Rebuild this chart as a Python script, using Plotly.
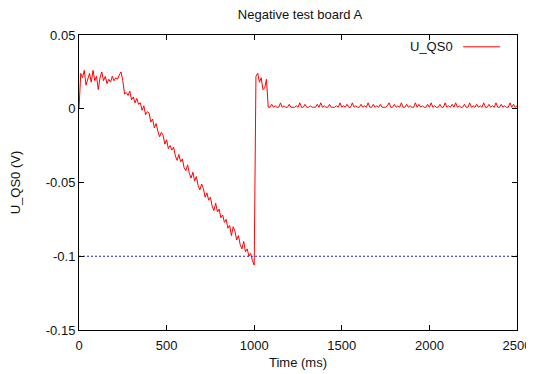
import plotly.graph_objects as go

title_text = "Negative test board A"
x_label = "Time (ms)"
y_label = "U_QS0 (V)"
series_name = "U_QS0"
threshold = -0.1
sample_step_ms = 10

head = [0.000, 0.024, 0.021, 0.026, 0.016, 0.020, 0.024, 0.018, 0.026, 0.019,
        0.022, 0.013, 0.021, 0.025, 0.019, 0.022, 0.017, 0.020, 0.018, 0.022,
        0.019, 0.021, 0.020, 0.023, 0.025, 0.019]

decline = [0.010, 0.011, 0.009, 0.012, 0.006, 0.008, 0.004, 0.007, 0.003, 0.004,
           -0.001, 0.002, -0.004, -0.002, -0.003, -0.009, -0.007, -0.013, -0.010, -0.015,
           -0.019, -0.016, -0.018, -0.024, -0.021, -0.027, -0.025, -0.028, -0.026, -0.032,
           -0.035, -0.031, -0.036, -0.034, -0.040, -0.042, -0.038, -0.044, -0.047, -0.043,
           -0.049, -0.046, -0.052, -0.055, -0.051, -0.054, -0.060, -0.057, -0.062, -0.060,
           -0.066, -0.069, -0.064, -0.070, -0.068, -0.074, -0.072, -0.077, -0.075, -0.081,
           -0.079, -0.086, -0.080, -0.083, -0.089, -0.086, -0.092, -0.095, -0.090, -0.097,
           -0.095, -0.100, -0.098, -0.103]

jump = [-0.106, 0.022, 0.024, 0.018, 0.021, 0.013, 0.014, 0.020, 0.001]

tail = [0.001, 0.003, 0.001, 0.002, 0.001, 0.001, 0.004, 0.001, 0.002, 0.001,
        0.001, 0.003, 0.001, 0.001, 0.001, 0.002, 0.001, 0.004, 0.001, 0.001,
        0.003, 0.001, 0.001, 0.002, 0.001, 0.001, 0.001, 0.003, 0.001, 0.004,
        0.001, 0.002, 0.001, 0.001, 0.003, 0.001, 0.001, 0.001, 0.002, 0.001,
        0.004, 0.001, 0.002, 0.001, 0.003, 0.001, 0.001, 0.004, 0.001, 0.002,
        0.001, 0.001, 0.003, 0.001, 0.002, 0.001, 0.004, 0.001, 0.001, 0.003,
        0.001, 0.002, 0.001, 0.003, 0.001, 0.001, 0.001, 0.002, 0.004, 0.001,
        0.001, 0.003, 0.001, 0.002, 0.001, 0.004, 0.001, 0.001, 0.003, 0.001,
        0.002, 0.001, 0.001, 0.004, 0.001, 0.003, 0.001, 0.002, 0.001, 0.001,
        0.003, 0.001, 0.004, 0.001, 0.002, 0.001, 0.001, 0.003, 0.001, 0.001,
        0.004, 0.001, 0.002, 0.001, 0.003, 0.001, 0.004, 0.001, 0.002, 0.001,
        0.001, 0.003, 0.001, 0.001, 0.004, 0.001, 0.002, 0.001, 0.003, 0.001,
        0.002, 0.001, 0.004, 0.001, 0.001, 0.003, 0.001, 0.002, 0.001, 0.004,
        0.001, 0.001, 0.003, 0.001, 0.002, 0.001, 0.001, 0.004, 0.001, 0.003,
        0.001, 0.002]

values = head + decline + jump + tail
times = [i * sample_step_ms for i in range(len(values))]

x_ticks = [0, 500, 1000, 1500, 2000, 2500]
y_ticks = [0.05, 0, -0.05, -0.1, -0.15]
y_tick_text = ["0.05", "0", "-0.05", "-0.1", "-0.15"]

font_family = "Liberation Sans, Arial, sans-serif"
text_color = "#111"
fs = 13

fig = go.Figure()
fig.add_trace(go.Scatter(x=times, y=values, mode="lines", name=series_name,
                         line=dict(color="#ff0000", width=1), showlegend=False))
fig.add_trace(go.Scatter(x=[x_ticks[0], x_ticks[-1]], y=[threshold, threshold], mode="lines",
                         line=dict(color="#2020ff", width=1.2, dash="2px,2px"), showlegend=False))

axis_common = dict(showline=True, linecolor="black", linewidth=1, mirror="allticks",
                   ticks="inside", ticklen=5, tickcolor="black", tickwidth=1,
                   showgrid=False, zeroline=False, automargin=False,
                   ticklabeloverflow="allow",
                   tickfont=dict(family=font_family, size=fs, color=text_color))

fig.update_xaxes(range=[0, 2500], tickvals=x_ticks, ticklabelstandoff=3,
                 title=dict(text=x_label, font=dict(family=font_family, size=fs, color=text_color), standoff=6),
                 **axis_common)
fig.update_yaxes(range=[-0.15, 0.05], tickvals=y_ticks, ticktext=y_tick_text,
                 title=dict(text=y_label, font=dict(family=font_family, size=fs, color=text_color), standoff=30),
                 **axis_common)

# legend (gnuplot style: text then line sample)
fig.add_annotation(x=0.858, y=0.960, xref="paper", yref="paper", text=series_name,
                   showarrow=False, xanchor="right", yanchor="middle",
                   font=dict(family=font_family, size=fs, color=text_color))
fig.add_shape(type="line", xref="paper", yref="paper", x0=0.877, x1=0.961, y0=0.960, y1=0.960,
              line=dict(color="#ff0000", width=1))

# the page adds an 8px body margin, so the figure is sized to fit the window after that offset
fig.update_layout(
    width=526, height=366,
    margin=dict(l=71, r=17, t=27, b=44),
    paper_bgcolor="white", plot_bgcolor="white",
    title=dict(text=title_text, x=292 / 526, xanchor="center", y=1.0, yanchor="top",
               pad=dict(t=2),
               font=dict(family=font_family, size=fs, color=text_color)),
    font=dict(family=font_family, size=fs, color=text_color),
)

fig.write_html("out.html")
